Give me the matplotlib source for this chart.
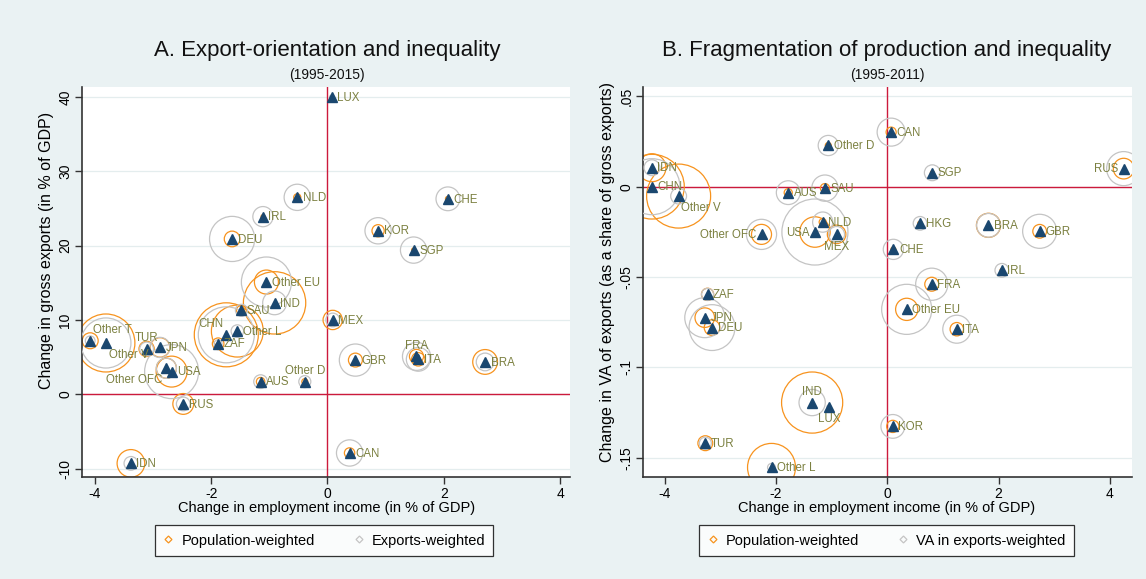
import numpy as np
import matplotlib
matplotlib.use('Agg')
import matplotlib.pyplot as plt
from matplotlib.lines import Line2D

# ---------------- Panel A data: export-orientation (1995-2015) ----------------
countries_a = ['LUX', 'NLD', 'IRL', 'DEU', 'Other EU', 'IND', 'CHE', 'KOR', 'SGP', 'SAU',
               'CHN', 'Other L', 'ZAF', 'Other T', 'Other V', 'TUR', 'JPN', 'Other OFC', 'USA',
               'AUS', 'Other D', 'RUS', 'IDN', 'MEX', 'GBR', 'FRA', 'ITA', 'BRA', 'CAN']
emp_income_a = [0.07, -0.52, -1.11, -1.64, -1.05, -0.91, 2.07, 0.87, 1.48, -1.48,
                -1.74, -1.55, -1.88, -4.08, -3.81, -3.11, -2.88, -2.77, -2.68,
                -1.15, -0.39, -2.48, -3.38, 0.09, 0.48, 1.53, 1.56, 2.71, 0.38]
gross_exports_a = [40.0, 26.5, 23.9, 20.9, 15.1, 12.3, 26.3, 22.0, 19.4, 11.3,
                   8.0, 8.5, 6.8, 7.2, 6.9, 6.1, 6.3, 3.5, 3.05,
                   1.7, 1.7, -1.3, -9.3, 10.0, 4.6, 5.1, 4.7, 4.35, -7.9]
population_a = [1, 17, 5, 82, 193, 1300, 8, 50, 5.5, 32,
                1370, 900, 45, 85, 1125, 78, 127, 134, 320,
                24, 12, 145, 255, 125, 65, 66, 60, 205, 36]
exports_w_a = [0.05, 2.2, 1.3, 6.5, 8.0, 1.8, 1.8, 2.2, 2.2, 0.46,
               10.0, 0.5, 0.2, 0.3, 8.0, 0.6, 1.3, 1.3, 9.3,
               0.6, 0.46, 0.6, 0.6, 0.6, 3.3, 2.5, 1.8, 1.0, 2.2]

# ---------------- Panel B data: fragmentation (1995-2011) ----------------
countries_b = ['IDN', 'CHN', 'Other V', 'Other OFC', 'AUS', 'SAU', 'Other D', 'NLD', 'USA',
               'MEX', 'CAN', 'SGP', 'RUS', 'HKG', 'BRA', 'GBR', 'CHE', 'IRL', 'FRA',
               'Other EU', 'ITA', 'KOR', 'ZAF', 'JPN', 'DEU', 'IND', 'LUX', 'TUR', 'Other L']
emp_income_b = [-4.23, -4.23, -3.75, -2.26, -1.78, -1.12, -1.06, -1.16, -1.30,
                -0.91, 0.07, 0.81, 4.25, 0.59, 1.82, 2.74, 0.11, 2.06, 0.80,
                0.35, 1.25, 0.10, -3.23, -3.28, -3.15, -1.35, -1.05, -3.27, -2.08]
va_exports_b = [0.0105, 0.0, -0.0052, -0.0264, -0.0033, -0.0008, 0.0228, -0.0196, -0.0251,
                -0.0264, 0.0302, 0.0077, 0.0100, -0.0203, -0.0214, -0.0247, -0.0347, -0.0463, -0.054,
                -0.0679, -0.0789, -0.1327, -0.0596, -0.0725, -0.078, -0.1195, -0.1219, -0.142, -0.1554]
population_b = [262, 1400, 1370, 134, 22, 28, 12, 17, 310,
                115, 34, 5, 143, 7, 195, 63, 8, 4.6, 65,
                165, 60, 50, 50, 128, 81, 1250, 0.5, 74, 770]
va_exports_w_b = [0.8, 10.0, 0.8, 2.9, 1.8, 2.2, 1.3, 1.3, 13.9,
                  0.8, 2.5, 0.8, 3.7, 0.6, 1.8, 3.7, 1.3, 0.6, 3.3,
                  8.0, 2.5, 1.8, 0.46, 5.1, 6.7, 2.2, 0.05, 0.46, 0.2]

xticks = [-4, -2, 0, 2, 4]
xtick_labels = ['-4', '-2', '0', '2', '4']
yticks_a = [-10, 0, 10, 20, 30, 40]
ytick_labels_a = ['-10', '0', '10', '20', '30', '40']
yticks_b = [-0.15, -0.1, -0.05, 0, 0.05]
ytick_labels_b = ['-.15', '-.1', '-.05', '0', '.05']

# ---------------- styles ----------------
BG = '#eaf2f3'
ORANGE = '#f7931e'
GRAY = '#c4c4c4'
NAVY = '#1a476f'
LABEL_C = '#7b8040'
RED = '#cc1a3c'
NARROW = ['Liberation Sans Narrow', 'Liberation Sans', 'DejaVu Sans']
REG = ['Liberation Sans', 'DejaVu Sans']
DPI = 100

label_pos_a = {'Other T': 1, 'Other V': 5, 'Other OFC': 7, 'TUR': 12, 'CHN': 11,
               'FRA': 12, 'Other D': 12}
label_pos_b = {'Other V': 5, 'Other OFC': 9, 'USA': 9, 'MEX': 6, 'RUS': 9,
               'IND': 12, 'LUX': 6}
clock = {3: (4, -0.5, 'left', 'center'), 12: (0, 3.5, 'center', 'bottom'),
         9: (-4, -0.5, 'right', 'center'), 11: (-2, 3.5, 'right', 'bottom'),
         1: (2, 3.5, 'left', 'bottom'), 5: (2, -4.5, 'left', 'top'),
         6: (0, -4.5, 'center', 'top'), 7: (-3, -4, 'right', 'top')}


def size_from_weight(w, r_ref, w_ref):
    r_px = r_ref * np.sqrt(np.asarray(w, dtype=float) / w_ref)
    return (2 * r_px * 72 / DPI) ** 2


fig = plt.figure(figsize=(11.46, 5.79), dpi=DPI, facecolor=BG)


def panel(rect, names, xs, ys, popw, expw, label_pos, xlim, ylim, yt, ytl):
    ax = fig.add_axes(rect)
    ax.set_facecolor('white')
    ax.set_xlim(*xlim)
    ax.set_ylim(*ylim)
    for y in yt:
        ax.axhline(y, color='#e4edee', lw=0.9, zorder=0)
    ax.axhline(0, color=RED, lw=1.0, zorder=1)
    ax.axvline(0, color=RED, lw=1.0, zorder=1)
    ax.scatter(xs, ys, s=size_from_weight(popw, 32, 1370), facecolors='none',
               edgecolors=ORANGE, linewidths=0.9, zorder=2)
    ax.scatter(xs, ys, s=size_from_weight(expw, 28, 10.0), facecolors='none',
               edgecolors=GRAY, linewidths=0.9, zorder=3)
    ax.plot(xs, ys, linestyle='none', marker='^', markersize=6.5, color=NAVY, zorder=4)
    for n, x, y in zip(names, xs, ys):
        dx, dy, ha, va = clock[label_pos.get(n, 3)]
        ax.annotate(n, (x, y), xytext=(dx, dy), textcoords='offset points', ha=ha, va=va,
                    fontsize=8.3, color=LABEL_C, family=REG, zorder=5)
    for s in ['top', 'right']:
        ax.spines[s].set_visible(False)
    for s in ['left', 'bottom']:
        ax.spines[s].set_color('#333333')
        ax.spines[s].set_linewidth(1.2)
    ax.set_xticks(xticks)
    ax.set_xticklabels(xtick_labels, family=NARROW, fontsize=10)
    ax.set_yticks(yt)
    ax.set_yticklabels(ytl, family=NARROW, fontsize=10, rotation=90, va='center')
    ax.tick_params(direction='out', length=5, width=1, color='#333333', pad=2)
    return ax


ax1 = panel([0.0716, 0.1762, 0.4258, 0.6736], countries_a, emp_income_a, gross_exports_a,
            population_a, exports_w_a, label_pos_a, (-4.22, 4.17), (-11.13, 41.35),
            yticks_a, ytick_labels_a)
ax2 = panel([0.5611, 0.1762, 0.4267, 0.6736], countries_b, emp_income_b, va_exports_b,
            population_b, va_exports_w_b, label_pos_b, (-4.39, 4.40), (-0.1607, 0.0552),
            yticks_b, ytick_labels_b)

# titles
fig.text(0.2853, 0.913, 'A. Export-orientation and inequality', ha='center', va='center',
         fontsize=16, family=REG, color='#111111')
fig.text(0.2853, 0.870, '(1995-2015)', ha='center', va='center', fontsize=10, family=REG,
         color='#111111')
fig.text(0.774, 0.913, 'B. Fragmentation of production and inequality', ha='center',
         va='center', fontsize=16, family=REG, color='#111111')
fig.text(0.774, 0.870, '(1995-2011)', ha='center', va='center', fontsize=10, family=REG,
         color='#111111')

# axis titles
fig.text(0.2853, 0.1226, 'Change in employment income (in % of GDP)', ha='center',
         va='center', fontsize=10.5, family=NARROW)
fig.text(0.774, 0.1226, 'Change in employment income (in % of GDP)', ha='center',
         va='center', fontsize=10.5, family=NARROW)
fig.text(0.041, 0.567, 'Change in gross exports (in % of GDP)', ha='center', va='center',
         rotation=90, fontsize=11.5, family=NARROW)
fig.text(0.5305, 0.53, 'Change in VA of exports (as a share of gross exports)', ha='center',
         va='center', rotation=90, fontsize=11.5, family=NARROW)

# legends
def legend(cx, second):
    h = [Line2D([], [], linestyle='none', marker='D', markersize=3.5, markerfacecolor='none',
                markeredgecolor=ORANGE, markeredgewidth=0.9, label='Population-weighted'),
         Line2D([], [], linestyle='none', marker='D', markersize=3.5, markerfacecolor='none',
                markeredgecolor=GRAY, markeredgewidth=0.9, label=second)]
    lg = fig.legend(handles=h, loc='upper center', bbox_to_anchor=(cx, 0.105), ncol=2,
                    frameon=True, fancybox=False, edgecolor='black', facecolor='white',
                    prop={'family': NARROW, 'size': 10.5}, handletextpad=0.5,
                    columnspacing=2.6, borderpad=0.55, handlelength=0.8)
    lg.get_frame().set_linewidth(0.9)


legend(0.2827, 'Exports-weighted')
legend(0.7736, 'VA in exports-weighted')

fig.savefig('out.png', dpi=DPI, facecolor=BG)
